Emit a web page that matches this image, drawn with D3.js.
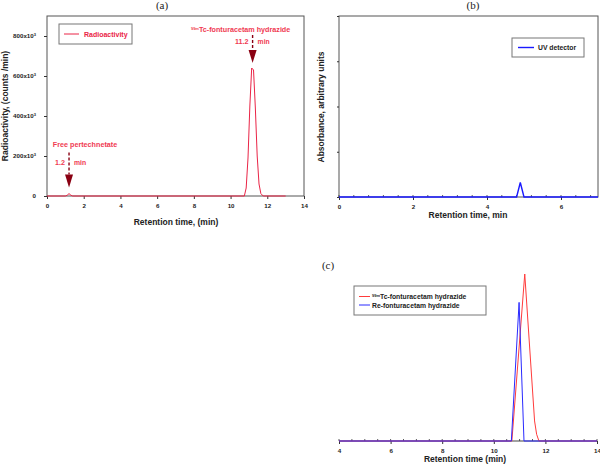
<!DOCTYPE html>
<html><head><meta charset="utf-8">
<script src="https://cdn.jsdelivr.net/npm/d3@7"></script>
<style>body{margin:0;background:#fff}svg{display:block}text{font-family:"Liberation Sans",Arial,sans-serif}text.serif{font-family:"Liberation Serif","Times New Roman",serif}</style>
</head><body>
<svg id="c" width="600" height="473"></svg>
<script>
// ---------- DATA ----------
// Panel (a) radioactivity chromatogram
const radTime   = [0, 1.0, 1.1, 1.2, 1.3, 1.4, 10.75, 10.85, 10.95, 11.05, 11.15, 11.25, 11.35, 11.45, 11.55, 11.65, 11.78, 13.0];
const radCounts = [0, 0, 4000, 12000, 4000, 0, 0, 40000, 190000, 450000, 640000, 630000, 440000, 200000, 60000, 12000, 0, 0];
const aXTicks = [0, 2, 4, 6, 8, 10, 12, 14];
const aYTicks = [0, 200, 400, 600, 800]; // x10^3
const aPeaks = [
  {t: 1.2, v: 12000, name: "Free pertechnetate", sup: "", label: "1.2"},
  {t: 11.2, v: 650000, name: "Tc-fonturacetam hydrazide", sup: "99m", label: "11.2"}
];
// Panel (b) UV chromatogram
const uvTime = [0, 4.8, 4.9, 5.0, 7];
const uvAbs  = [0, 0, 0.32, 0, 0];
const bXTicks = [0, 2, 4, 6];
const bYTicks = [0, 1, 2, 3, 4];
// Panel (c) co-injection comparison (normalized)
const tcTime = [4, 10.7, 11.2, 11.58, 11.66, 11.75, 14];
const tcSig  = [0, 0, 1, 0.12, 0.04, 0, 0];
const reTime = [4, 10.68, 10.98, 11.17, 14];
const reSig  = [0, 0, 0.83, 0, 0];
const cXTicks = [4, 6, 8, 10, 12, 14];

// ---------- DRAW ----------
const svg = d3.select("#c");
const RED = "#ea2446", TXT = "#f03a52", DARK = "#8a0012", BLUE = "#1a1aff";
const tickFont = 6.2;

function frame(g, x0, y0, x1, y1) {
  g.append("rect").attr("x", x0).attr("y", y0).attr("width", x1 - x0).attr("height", y1 - y0)
    .attr("fill", "none").attr("stroke", "#555").attr("stroke-width", 1);
}
function minorTicks(g, x, y0, step, lo, hi) {
  const arr = d3.range(lo, hi + 1e-9, step);
  g.selectAll(null).data(arr).enter().append("line")
    .attr("x1", d => x(d)).attr("x2", d => x(d)).attr("y1", y0).attr("y2", y0 - 2)
    .attr("stroke", "#333").attr("stroke-width", 0.8);
}

// ===== Panel (a) =====
{
  const x = d3.scaleLinear().domain([0, 14]).range([47, 304]);
  const y = d3.scaleLinear().domain([0, 900000]).range([196, 16]);
  const g = svg.append("g");
  frame(g, 47, 16, 304, 196);
  const xa = g.append("g").attr("transform", "translate(0,196)")
    .call(d3.axisBottom(x).tickValues(aXTicks).tickSize(3).tickPadding(5).tickFormat(d3.format("d")));
  xa.select(".domain").remove();
  const ya = g.append("g").attr("transform", "translate(47,0)")
    .call(d3.axisLeft(y).tickValues(aYTicks.map(v => v * 1000)).tickSize(3).tickPadding(8).tickFormat(""));
  ya.select(".domain").remove();
  [xa, ya].forEach(a => a.selectAll("text").attr("font-size", tickFont).attr("font-weight", "bold").attr("fill", "#222"));
  ya.selectAll(".tick").each(function(d) {
    const t = d3.select(this).select("text");
    if (d === 0) { t.text("0"); return; }
    t.text(null);
    t.append("tspan").text((d / 1000) + "x10");
    t.append("tspan").attr("font-size", 4).attr("dy", -2.5).text("3");
  });
  g.selectAll(".tick line").attr("stroke", "#333");

  g.append("path").datum(radTime.map((t, i) => [t, radCounts[i]]))
    .attr("d", d3.line().x(d => x(d[0])).y(d => y(d[1])))
    .attr("fill", "none").attr("stroke", RED).attr("stroke-width", 1);

  // annotation layout (drawing geometry, px offsets from the arrow tip)
  const annLayout = [
    {tipGap: 6, head: 13, stem: 22, numDy: -10, nameDy: -28, nameDx: 16},
    {tipGap: 3, head: 13, stem: 15, numDy: -6,  nameDy: -18, nameDx: -12}
  ];
  aPeaks.forEach((p, i) => {
    const L = annLayout[i];
    const px = x(p.t), tipY = y(p.v) - L.tipGap;
    const headTop = tipY - L.head, lineTop = headTop - L.stem;
    g.append("line").attr("x1", px).attr("x2", px).attr("y1", lineTop).attr("y2", headTop)
      .attr("stroke", DARK).attr("stroke-width", 1.4).attr("stroke-dasharray", "3,2");
    g.append("path").attr("d", `M${px - 4},${headTop} L${px + 4},${headTop} L${px},${tipY} Z`).attr("fill", DARK);
    g.append("text").attr("x", px - 4).attr("y", headTop + L.numDy).attr("text-anchor", "end")
      .attr("font-size", 7.2).attr("font-weight", "bold").attr("fill", TXT).text(p.label);
    g.append("text").attr("x", px + 5).attr("y", headTop + L.numDy)
      .attr("font-size", 6.8).attr("font-weight", "bold").attr("fill", TXT).text("min");
    const nt = g.append("text").attr("x", px + L.nameDx).attr("y", headTop + L.nameDy).attr("text-anchor", "middle")
      .attr("font-size", 7.2).attr("font-weight", "bold").attr("fill", TXT);
    if (p.sup) nt.append("tspan").attr("font-size", 4).attr("dy", -2.5).text(p.sup);
    nt.append("tspan").attr("dy", p.sup ? 2.5 : 0).text(p.name);
  });

  // legend
  g.append("rect").attr("x", 59).attr("y", 24).attr("width", 73).attr("height", 20)
    .attr("fill", "#fff").attr("stroke", "#777").attr("stroke-width", 1);
  g.append("line").attr("x1", 64).attr("x2", 79).attr("y1", 34).attr("y2", 34).attr("stroke", RED).attr("stroke-width", 1);
  g.append("text").attr("x", 84).attr("y", 36.5).attr("font-size", 7).attr("font-weight", "bold").attr("fill", RED).text("Radioactivity");

  g.append("text").attr("x", 176).attr("y", 225).attr("text-anchor", "middle")
    .attr("font-size", 8.5).attr("font-weight", "bold").attr("fill", "#222").text("Retention time, (min)");
  g.append("text").attr("transform", "translate(8,106) rotate(-90)").attr("text-anchor", "middle")
    .attr("font-size", 8.5).attr("font-weight", "bold").attr("fill", "#222").text("Radioactivity, (counts /min)");
  g.append("text").attr("class", "serif").attr("x", 162).attr("y", 9).attr("text-anchor", "middle")
    .attr("font-size", 11).attr("fill", "#222").text("(a)");
}

// ===== Panel (b) =====
{
  const x = d3.scaleLinear().domain([0, 7]).range([339, 598]);
  const y = d3.scaleLinear().domain([0, 4]).range([197, 16]);
  const g = svg.append("g");
  frame(g, 339, 16, 598, 197);
  minorTicks(g, x, 197, 0.4, 0, 7);
  const xa = g.append("g").attr("transform", "translate(0,197)")
    .call(d3.axisBottom(x).tickValues(bXTicks).tickSize(3).tickPadding(5).tickFormat(d3.format("d")));
  xa.select(".domain").remove();
  xa.selectAll("text").attr("font-size", tickFont).attr("font-weight", "bold").attr("fill", "#222");
  const ya = g.append("g").attr("transform", "translate(339,0)")
    .call(d3.axisLeft(y).tickValues(bYTicks).tickSize(2).tickFormat(""));
  ya.select(".domain").remove();
  g.selectAll(".tick line").attr("stroke", "#333");

  g.append("path").datum(uvTime.map((t, i) => [t, uvAbs[i]]))
    .attr("d", d3.line().x(d => x(d[0])).y(d => y(d[1])))
    .attr("fill", "none").attr("stroke", BLUE).attr("stroke-width", 1.4);

  g.append("rect").attr("x", 512).attr("y", 38).attr("width", 72).attr("height", 19)
    .attr("fill", "#fff").attr("stroke", "#777").attr("stroke-width", 1);
  g.append("line").attr("x1", 518).attr("x2", 534).attr("y1", 47.5).attr("y2", 47.5).attr("stroke", BLUE).attr("stroke-width", 1.4);
  g.append("text").attr("x", 538).attr("y", 50).attr("font-size", 6.8).attr("font-weight", "bold").attr("fill", "#222").text("UV detector");

  g.append("text").attr("x", 468).attr("y", 218).attr("text-anchor", "middle")
    .attr("font-size", 8.5).attr("font-weight", "bold").attr("fill", "#222").text("Retention time, min");
  g.append("text").attr("transform", "translate(324,107) rotate(-90)").attr("text-anchor", "middle")
    .attr("font-size", 8.5).attr("font-weight", "bold").attr("fill", "#222").text("Absorbance, arbitrary units");
  g.append("text").attr("class", "serif").attr("x", 473).attr("y", 9).attr("text-anchor", "middle")
    .attr("font-size", 11).attr("fill", "#222").text("(b)");
}

// ===== Panel (c) =====
{
  const x = d3.scaleLinear().domain([4, 14]).range([339, 597]);
  const y = d3.scaleLinear().domain([0, 1]).range([441, 274]);
  const g = svg.append("g");
  g.append("line").attr("x1", 339).attr("x2", 597).attr("y1", 441).attr("y2", 441).attr("stroke", "#444");
  minorTicks(g, x, 441, 0.5, 4, 14);
  const xa = g.append("g").attr("transform", "translate(0,441)")
    .call(d3.axisBottom(x).tickValues(cXTicks).tickSize(3).tickPadding(5).tickFormat(d3.format("d")));
  xa.select(".domain").remove();
  xa.selectAll("text").attr("font-size", tickFont).attr("font-weight", "bold").attr("fill", "#222");
  g.selectAll(".tick line").attr("stroke", "#333");

  const line = d3.line().x(d => x(d[0])).y(d => y(d[1]));
  g.append("path").datum(tcTime.map((t, i) => [t, tcSig[i]])).attr("d", line)
    .attr("fill", "none").attr("stroke", "#ff3b3b").attr("stroke-width", 1);
  g.append("path").datum(reTime.map((t, i) => [t, reSig[i]])).attr("d", line)
    .attr("fill", "none").attr("stroke", "#2a2aff").attr("stroke-width", 1);

  g.append("rect").attr("x", 354).attr("y", 286).attr("width", 132).attr("height", 29)
    .attr("fill", "#fff").attr("stroke", "#777").attr("stroke-width", 1);
  g.append("line").attr("x1", 359).attr("x2", 370).attr("y1", 296.5).attr("y2", 296.5).attr("stroke", "#ff3b3b");
  g.append("line").attr("x1", 359).attr("x2", 370).attr("y1", 305).attr("y2", 305).attr("stroke", "#2a2aff");
  const t1 = g.append("text").attr("x", 372).attr("y", 299).attr("font-size", 6.8).attr("font-weight", "bold").attr("fill", "#222");
  t1.append("tspan").attr("font-size", 4).attr("dy", -2.5).text("99m");
  t1.append("tspan").attr("dy", 2.5).text("Tc-fonturacetam hydrazide");
  g.append("text").attr("x", 372).attr("y", 307.5).attr("font-size", 6.8).attr("font-weight", "bold").attr("fill", "#222").text("Re-fonturacetam hydrazide");

  g.append("text").attr("x", 465).attr("y", 462).attr("text-anchor", "middle")
    .attr("font-size", 8.5).attr("font-weight", "bold").attr("fill", "#222").text("Retention time (min)");
  g.append("text").attr("class", "serif").attr("x", 328).attr("y", 269).attr("text-anchor", "middle")
    .attr("font-size", 11).attr("fill", "#222").text("(c)");
}
</script>
</body></html>
